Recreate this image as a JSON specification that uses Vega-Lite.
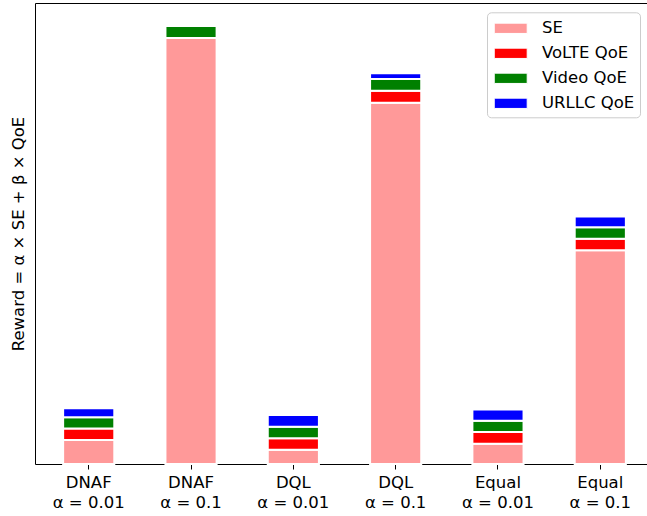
{
  "$schema": "https://vega.github.io/schema/vega-lite/v6.json",
  "autosize": {"type": "none"},
  "padding": {"left": 35, "top": 3, "right": 0, "bottom": 52},
  "width": 612,
  "height": 461,
  "config": {
    "font": "DejaVu Sans",
    "view": {"stroke": "#000", "strokeWidth": 1}
  },
  "data": {
    "values": [
      {"cat": "DNAF|α = 0.01", "series": "SE", "k": 1, "value": 24},
      {"cat": "DNAF|α = 0.01", "series": "VoLTE QoE", "k": 2, "value": 11.5},
      {"cat": "DNAF|α = 0.01", "series": "Video QoE", "k": 3, "value": 11.3},
      {"cat": "DNAF|α = 0.01", "series": "URLLC QoE", "k": 4, "value": 8.9},
      {"cat": "DNAF|α = 0.1", "series": "SE", "k": 1, "value": 426},
      {"cat": "DNAF|α = 0.1", "series": "VoLTE QoE", "k": 2, "value": 0},
      {"cat": "DNAF|α = 0.1", "series": "Video QoE", "k": 3, "value": 12},
      {"cat": "DNAF|α = 0.1", "series": "URLLC QoE", "k": 4, "value": 0},
      {"cat": "DQL|α = 0.01", "series": "SE", "k": 1, "value": 14.2},
      {"cat": "DQL|α = 0.01", "series": "VoLTE QoE", "k": 2, "value": 11.6},
      {"cat": "DQL|α = 0.01", "series": "Video QoE", "k": 3, "value": 11.5},
      {"cat": "DQL|α = 0.01", "series": "URLLC QoE", "k": 4, "value": 11.7},
      {"cat": "DQL|α = 0.1", "series": "SE", "k": 1, "value": 361.2},
      {"cat": "DQL|α = 0.1", "series": "VoLTE QoE", "k": 2, "value": 12.1},
      {"cat": "DQL|α = 0.1", "series": "Video QoE", "k": 3, "value": 11.7},
      {"cat": "DQL|α = 0.1", "series": "URLLC QoE", "k": 4, "value": 5.7},
      {"cat": "Equal|α = 0.01", "series": "SE", "k": 1, "value": 20.2},
      {"cat": "Equal|α = 0.01", "series": "VoLTE QoE", "k": 2, "value": 11.8},
      {"cat": "Equal|α = 0.01", "series": "Video QoE", "k": 3, "value": 11.3},
      {"cat": "Equal|α = 0.01", "series": "URLLC QoE", "k": 4, "value": 11.1},
      {"cat": "Equal|α = 0.1", "series": "SE", "k": 1, "value": 213.7},
      {"cat": "Equal|α = 0.1", "series": "VoLTE QoE", "k": 2, "value": 11.6},
      {"cat": "Equal|α = 0.1", "series": "Video QoE", "k": 3, "value": 11.5},
      {"cat": "Equal|α = 0.1", "series": "URLLC QoE", "k": 4, "value": 10.6}
    ]
  },
  "mark": {"type": "bar", "stroke": "white", "strokeWidth": 2},
  "encoding": {
    "x": {
      "field": "cat",
      "type": "nominal",
      "sort": null,
      "scale": {"paddingInner": 0.5, "paddingOuter": 0.275, "range": [0, 619]},
      "axis": {
        "title": null,
        "labelAngle": 0,
        "labelExpr": "split(datum.value, '|')",
        "labelFontSize": 16.5,
        "labelColor": "#000",
        "labelBaseline": "top",
        "labelLineHeight": 20,
        "labelPadding": 5,
        "tickSize": 5,
        "tickColor": "#000",
        "domain": false
      }
    },
    "y": {
      "field": "value",
      "type": "quantitative",
      "stack": "zero",
      "scale": {"domain": [0, 461], "nice": false},
      "axis": {
        "title": "Reward = α × SE + β × QoE",
        "titleFontSize": 16.5,
        "titleFontWeight": "normal",
        "titleColor": "#000",
        "titlePadding": 9,
        "labels": false,
        "ticks": false,
        "grid": false,
        "domain": false
      }
    },
    "order": {"field": "k", "type": "quantitative"},
    "color": {
      "field": "series",
      "type": "nominal",
      "scale": {
        "domain": ["SE", "VoLTE QoE", "Video QoE", "URLLC QoE"],
        "range": ["#ff9999", "#ff0000", "#008000", "#0000ff"]
      },
      "legend": {
        "title": null,
        "orient": "none",
        "legendX": 452,
        "legendY": 9.3,
        "padding": 5,
        "fillColor": "white",
        "strokeColor": "#cccccc",
        "cornerRadius": 4,
        "symbolType": "M-0.85,-0.5H2.35V0.5H-0.85Z",
        "symbolSize": 424,
        "symbolStrokeColor": "white",
        "symbolStrokeWidth": 1,
        "symbolOpacity": 1,
        "labelFontSize": 16.5,
        "labelColor": "#000",
        "labelOffset": 28,
        "rowPadding": 5
      }
    }
  }
}
